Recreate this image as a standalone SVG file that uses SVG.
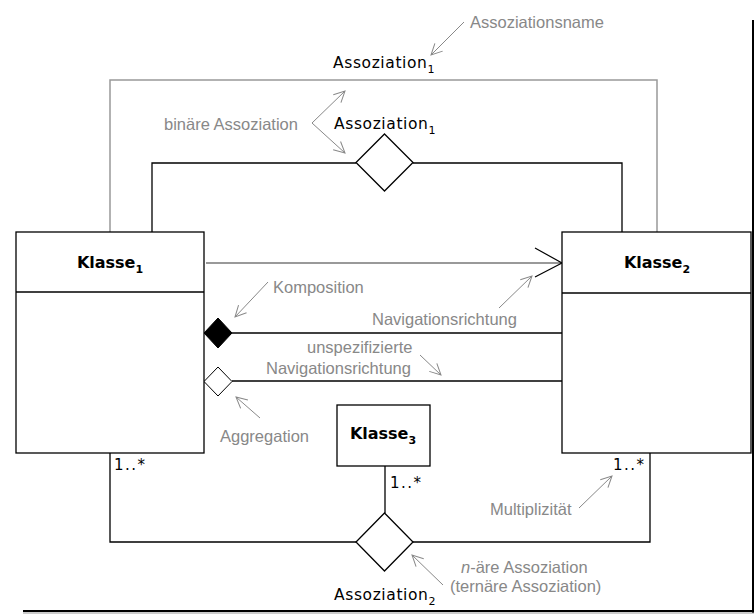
<svg xmlns="http://www.w3.org/2000/svg" width="756" height="614" viewBox="0 0 756 614">
<defs>
<marker id="ga" markerWidth="14" markerHeight="14" refX="12" refY="7" orient="auto" markerUnits="userSpaceOnUse">
<polyline points="1,1.5 12,7 1,12.5" fill="none" stroke="#888" stroke-width="1"/>
</marker>
<style>
.box{fill:#fff;stroke:#000;stroke-width:1.3}
.ln{fill:none;stroke:#000;stroke-width:1.3}
.gl{fill:none;stroke:#999;stroke-width:1.5}
.ann{fill:none;stroke:#888;stroke-width:1;marker-end:url(#ga)}
.gt{font-family:"Liberation Sans",Arial,sans-serif;font-size:16.5px;fill:#888}
.bt{font-family:"DejaVu Sans",sans-serif;font-size:15.5px;fill:#000;letter-spacing:0.6px}
.cls{font-family:"DejaVu Sans",sans-serif;font-weight:bold;font-size:16px;fill:#000}
.mt{font-family:"DejaVu Sans",sans-serif;font-size:15px;fill:#000;letter-spacing:1.5px}
</style>
</defs>
<rect width="756" height="614" fill="#fff"/>
<g id="connectors">
<polyline class="gl" points="110,232 110,80 657,80 657,232"/>
<polyline class="ln" points="152,232 152,163 356,163"/>
<polyline class="ln" points="413,163 622,163 622,232"/>
<line x1="206" y1="263" x2="561" y2="263" stroke="#777" stroke-width="1.3"/>
<polyline points="535,248 562,263 535,277" fill="none" stroke="#000" stroke-width="1.2"/>
<line class="ln" x1="232" y1="333" x2="562" y2="333"/>
<line class="ln" x1="232" y1="381" x2="562" y2="381"/>
<polyline class="ln" points="110,453 110,542 356,542"/>
<polyline class="ln" points="413,542 650,542 650,453"/>
<line class="ln" x1="385" y1="466" x2="385" y2="513"/>
</g>
<g id="assoc1-diamond"><polygon points="384.5,134 413,162.5 384.5,191 356,162.5" class="box" stroke-width="1"/></g>
<g id="assoc2-diamond"><polygon points="384.5,513 413,542 384.5,571 356,542" class="box" stroke-width="1"/></g>
<g id="composition"><polygon points="218,318 232,333 218,348 204,333" fill="#000" stroke="#000"/></g>
<g id="aggregation"><polygon points="218,367 232,381.5 218,396 204,381.5" fill="#fff" stroke="#000" stroke-width="1"/></g>
<g id="klasse1">
<rect class="box" x="16" y="232" width="188" height="221"/>
<line class="ln" x1="16" y1="292" x2="204" y2="292"/>
<text class="cls" x="110" y="268" text-anchor="middle">Klasse<tspan font-size="11" dy="5">1</tspan></text>
</g>
<g id="klasse2">
<rect class="box" x="562" y="232" width="189" height="221"/>
<line class="ln" x1="562" y1="293" x2="751" y2="293"/>
<text class="cls" x="657" y="268" text-anchor="middle">Klasse<tspan font-size="11" dy="5">2</tspan></text>
</g>
<g id="klasse3">
<rect class="box" x="337" y="405" width="93" height="61"/>
<text class="cls" x="383" y="439" text-anchor="middle">Klasse<tspan font-size="11" dy="5">3</tspan></text>
</g>
<g id="labels">
<text class="bt" x="333" y="68">Assoziation<tspan font-size="11" dy="5">1</tspan></text>
<text class="bt" x="334" y="129">Assoziation<tspan font-size="11" dy="5">1</tspan></text>
<text class="bt" x="334" y="600">Assoziation<tspan font-size="11" dy="5">2</tspan></text>
<text class="mt" x="114" y="470">1..*</text>
<text class="mt" x="390" y="488">1..*</text>
<text class="mt" x="613" y="470">1..*</text>
</g>
<g id="annotations">
<text class="gt" x="470" y="28">Assoziationsname</text>
<line class="ann" x1="464" y1="22" x2="431" y2="55"/>
<text class="gt" x="164" y="130">binäre Assoziation</text>
<line class="ann" x1="312" y1="123" x2="345" y2="91"/>
<line class="ann" x1="312" y1="123" x2="345" y2="153"/>
<text class="gt" x="273" y="293">Komposition</text>
<line class="ann" x1="268" y1="282" x2="235" y2="317"/>
<text class="gt" x="372" y="325">Navigationsrichtung</text>
<line class="ann" x1="499" y1="308" x2="532" y2="276"/>
<text class="gt" x="307" y="353">unspezifizierte</text>
<text class="gt" x="266" y="374">Navigationsrichtung</text>
<line class="ann" x1="420" y1="355" x2="441" y2="375"/>
<text class="gt" x="220" y="442">Aggregation</text>
<line class="ann" x1="260" y1="418" x2="236" y2="397"/>
<text class="gt" x="490" y="515">Multiplizität</text>
<line class="ann" x1="579" y1="508" x2="612" y2="476"/>
<text class="gt" x="461" y="573"><tspan font-style="italic">n</tspan>-äre Assoziation</text>
<text class="gt" x="450" y="592">(ternäre Assoziation)</text>
<line class="ann" x1="443" y1="585" x2="412" y2="555"/>
</g>
<g id="frame">
<line x1="753" y1="20" x2="753" y2="613" stroke="#000" stroke-width="2"/>
<line x1="23" y1="611" x2="754" y2="611" stroke="#000" stroke-width="2"/>
<line x1="23" y1="613" x2="754" y2="613" stroke="#999" stroke-width="1"/>
</g>
</svg>
